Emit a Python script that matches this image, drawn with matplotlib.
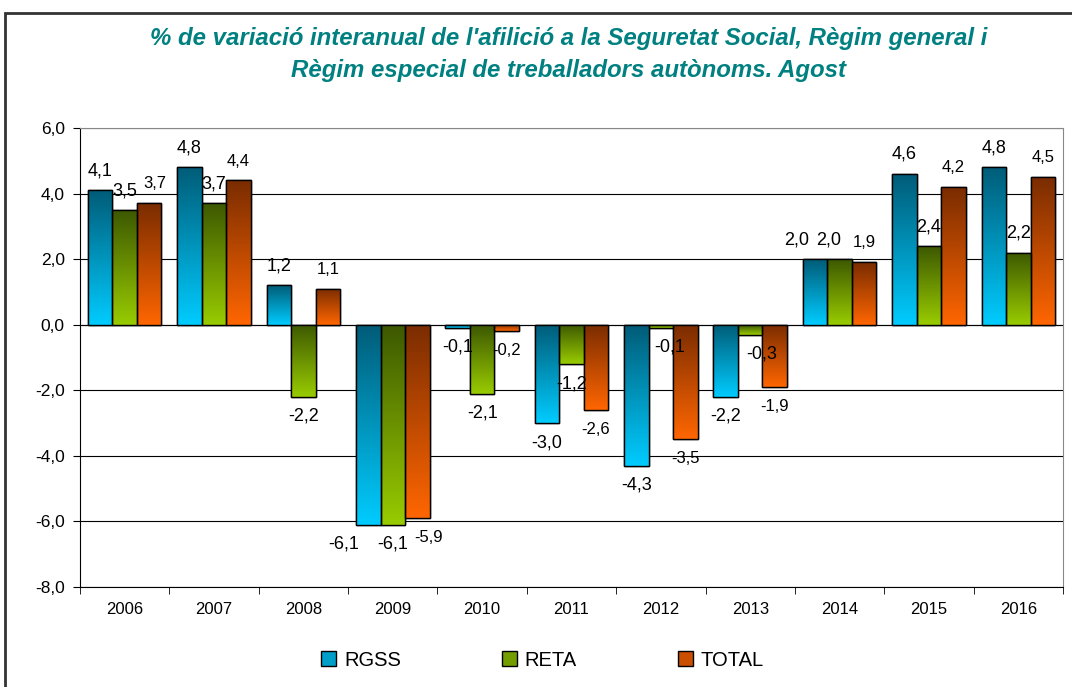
import numpy as np
import matplotlib.pyplot as plt
from matplotlib.colors import LinearSegmentedColormap
from matplotlib.patches import Rectangle

plt.rcParams['font.family'] = ['Liberation Sans', 'DejaVu Sans']

# data
years = ['2006', '2007', '2008', '2009', '2010', '2011', '2012', '2013', '2014', '2015', '2016']
rgss = [4.1, 4.8, 1.2, -6.1, -0.1, -3.0, -4.3, -2.2, 2.0, 4.6, 4.8]
reta = [3.5, 3.7, -2.2, -6.1, -2.1, -1.2, -0.1, -0.3, 2.0, 2.4, 2.2]
total = [3.7, 4.4, 1.1, -5.9, -0.2, -2.6, -3.5, -1.9, 1.9, 4.2, 4.5]
series_names = ['RGSS', 'RETA', 'TOTAL']

# (top colour, bottom colour, label size)
styles = [
    ('#005C78', '#00CCFF', 13),
    ('#3D5800', '#99CC00', 13),
    ('#7A2C00', '#FF6600', 12),
]

# small sideways nudges (points) where the labels crowd each other
nudges = {(0, 3): -18, (2, 3): 8, (2, 0): 4, (0, 8): -13, (1, 8): -8, (1, 6): 6, (1, 7): 8}

fig = plt.figure(figsize=(10.72, 6.87), dpi=100)
ax = fig.add_axes([80 / 1072, 1 - 587 / 687, 983 / 1072, 459 / 687])

x = np.arange(len(years))
width = 0.274
grad = np.linspace(0, 1, 256).reshape(-1, 1)

for i, vals in enumerate([rgss, reta, total]):
    top_c, bot_c, fsize = styles[i]
    cmap = LinearSegmentedColormap.from_list('g%d' % i, [top_c, bot_c])
    pos = x + (i - 1) * width
    bars = ax.bar(pos, vals, width, color=bot_c, edgecolor='black', linewidth=1.0, zorder=3)
    for j, (b, v) in enumerate(zip(bars, vals)):
        x0 = b.get_x()
        y_top = max(v, 0)
        y_bot = min(v, 0)
        im = ax.imshow(grad, cmap=cmap, aspect='auto', extent=[x0, x0 + width, y_bot, y_top],
                       origin='upper', zorder=3.5)
        im.set_clip_path(b)
        ax.add_patch(Rectangle((x0, y_bot), width, y_top - y_bot, fill=False,
                               edgecolor='black', linewidth=1.0, zorder=4))
        off = 14 if v >= 0 else -14
        ax.annotate(('%.1f' % v).replace('.', ','), (b.get_x() + width / 2, v),
                    xytext=(nudges.get((i, j), 0), off), textcoords='offset points',
                    ha='center', va='center', fontsize=fsize, color='black', zorder=5)

ax.set_xlim(-0.5, len(years) - 0.5)
ax.set_ylim(-8, 6)

yt = np.arange(-8, 7, 2)
ax.set_yticks(yt)
ax.set_yticklabels([('%.1f' % t).replace('.', ',') for t in yt], fontsize=12.5)
ax.set_xticks(x)
ax.set_xticklabels(years, fontsize=12)
ax.set_xticks(np.arange(-0.5, len(years), 1), minor=True)
ax.tick_params(axis='x', which='major', length=0, pad=11)
ax.tick_params(axis='x', which='minor', length=5, direction='out', color='black')
ax.tick_params(axis='y', length=5, direction='out', color='black', pad=6)

ax.grid(axis='y', color='black', linewidth=0.8, zorder=0)
ax.set_axisbelow(True)
ax.axhline(0, color='black', linewidth=0.8, zorder=2)
ax.spines['left'].set_color('black')
ax.spines['bottom'].set_color('black')
ax.spines['top'].set_color('#888888')
ax.spines['right'].set_color('#888888')

title_kw = dict(ha='center', va='center', fontsize=17.3, fontweight='bold', style='italic', color='#008080')
fig.text(0.53, 1 - 38 / 687, "% de variació interanual de l'afilició a la Seguretat Social, Règim general i", **title_kw)
fig.text(0.53, 1 - 70 / 687, "Règim especial de treballadors autònoms. Agost", **title_kw)

# outer chart frame (top and left edges visible)
fig.add_artist(Rectangle((5 / 1072, -0.1), 1.2, 1 - 13 / 687 + 0.1, transform=fig.transFigure,
                         fill=False, edgecolor='#333333', linewidth=2))

handles = [Rectangle((0, 0), 1, 1, facecolor=LinearSegmentedColormap.from_list('h', [s[0], s[1]])(0.6),
                     edgecolor='black', linewidth=1.0) for s in styles]
fig.legend(handles, series_names, loc='center', bbox_to_anchor=(0.506, 1 - 660 / 687), ncol=3,
           frameon=False, fontsize=14.5, handlelength=0.75, handleheight=0.75, columnspacing=5.0,
           handletextpad=0.4)

fig.savefig('out.png', dpi=100)
